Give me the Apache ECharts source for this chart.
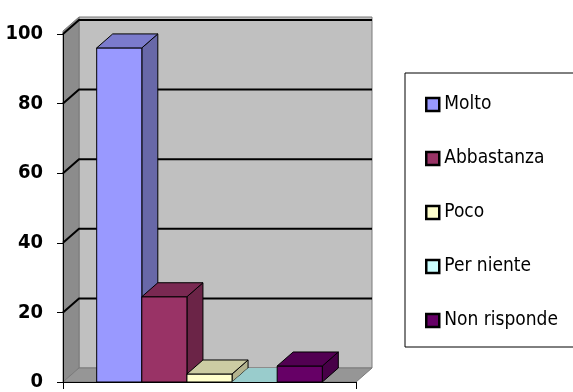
<!DOCTYPE html>
<html>
<head>
<meta charset="utf-8">
<script src="https://cdn.jsdelivr.net/npm/echarts@6/dist/echarts.min.js"></script>
<style>
  html, body { margin: 0; padding: 0; background: #fff; }
  #chart { width: 573px; height: 392px; }
</style>
</head>
<body>
<div id="chart"></div>
<script>
  // dati
  var names = ['Molto', 'Abbastanza', 'Poco', 'Per niente', 'Non risponde'];
  var values = [96, 24.5, 2.3, 0, 4.6];
  var yTicks = [0, 20, 40, 60, 80, 100];

  var frontColors = ['#9999ff', '#993366', '#ffffcc', '#ccffff', '#660066'];
  var topColors = ['#7b7bcc', '#7a2952', '#cccca3', '#99cccc', '#520052'];
  var sideColors = ['#6868a8', '#6b2447', '#b3b38f', '#8fb3b3', '#470047'];

  var DX = 16, DY = -14;   // profondita' 3D
  var GAP = 0.23;          // spazio ai lati del gruppo di barre

  var chart = echarts.init(document.getElementById('chart'));

  function renderWalls(params, api) {
    var p0 = api.coord([0, 0]);
    var band = api.size([1, 0])[0];
    var left = p0[0] - band / 2, right = p0[0] + band / 2;
    var yBase = p0[1];
    var yTop = api.coord([0, 100])[1];
    var children = [];
    // parete di fondo
    children.push({type: 'rect',
      shape: {x: left + DX, y: yTop + DY - 3, width: right - left, height: yBase - yTop + 3},
      style: {fill: '#c0c0c0', stroke: '#7a7a7a', lineWidth: 1}});
    // parete laterale
    children.push({type: 'polygon',
      shape: {points: [[left, yTop - 3], [left + DX, yTop + DY - 3], [left + DX, yBase + DY], [left, yBase]]},
      style: {fill: '#8c8c8c', stroke: '#7a7a7a', lineWidth: 1}});
    // pavimento
    children.push({type: 'polygon',
      shape: {points: [[left, yBase], [left + DX, yBase + DY], [right + DX, yBase + DY], [right, yBase]]},
      style: {fill: '#969696', stroke: '#7a7a7a', lineWidth: 1}});
    // griglia
    yTicks.forEach(function (t) {
      if (t === 0) return;
      var y = api.coord([0, t])[1];
      children.push({type: 'polyline',
        shape: {points: [[left, y], [left + DX, y + DY], [right + DX, y + DY]]},
        style: {stroke: '#000', lineWidth: 2, fill: null}});
    });
    return {type: 'group', children: children};
  }

  function renderBar(params, api) {
    var i = params.seriesIndex - 1;
    var base = api.coord([0, 0]);
    var top = api.coord([0, api.value(1)]);
    var band = api.size([1, 0])[0];
    var barW = band * (1 - GAP) / names.length;
    var x0 = base[0] - band * (1 - GAP) / 2 + i * barW;
    var x1 = x0 + barW;
    var y0 = base[1], y1 = top[1];
    var children = [];
    var solid = y0 - y1 > 0.5;
    if (solid) {
      children.push({type: 'polygon',
        shape: {points: [[x1, y1], [x1 + DX, y1 + DY], [x1 + DX, y0 + DY], [x1, y0]]},
        style: {fill: sideColors[i], stroke: '#000', lineWidth: 1}});
      children.push({type: 'rect',
        shape: {x: x0, y: y1, width: barW, height: y0 - y1},
        style: {fill: frontColors[i], stroke: '#000', lineWidth: 1}});
    }
    children.push({type: 'polygon',
      shape: {points: [[x0, y1], [x0 + DX, y1 + DY], [x1 + DX, y1 + DY], [x1, y1]]},
      style: {fill: topColors[i], stroke: solid ? '#000' : null, lineWidth: 1}});
    return {type: 'group', children: children};
  }

  var series = [{
    type: 'custom',
    name: 'pareti',
    silent: true,
    renderItem: renderWalls,
    data: [[0, 100]]
  }];
  names.forEach(function (n, i) {
    series.push({
      type: 'custom',
      name: n,
      renderItem: renderBar,
      itemStyle: {color: frontColors[i]},
      data: [[0, values[i]]]
    });
  });

  chart.setOption({
    animation: false,
    grid: {left: 63, right: 217, top: 34, bottom: 8},
    legend: {
      orient: 'vertical',
      left: 405,
      top: 73,
      padding: [22, 120, 17, 20],
      itemGap: 35,
      itemWidth: 13,
      itemHeight: 13,
      icon: 'rect',
      itemStyle: {borderColor: '#000', borderWidth: 2.5},
      borderColor: '#000',
      borderWidth: 1,
      textStyle: {fontFamily: 'DejaVu Sans Condensed', fontSize: 19, color: '#000'},
      data: names
    },
    xAxis: {
      type: 'category',
      data: [''],
      z: 10,
      axisLine: {lineStyle: {color: '#000', width: 1}},
      axisTick: {show: true, length: 7, lineStyle: {color: '#000'}},
      axisLabel: {show: false}
    },
    yAxis: {
      type: 'value',
      min: 0,
      max: 100,
      interval: 20,
      z: 10,
      axisLine: {show: true, lineStyle: {color: '#000', width: 1}},
      axisTick: {show: true, length: 6, lineStyle: {color: '#000'}},
      axisLabel: {margin: 20, color: '#000', fontWeight: 'bold', fontSize: 20,
        fontFamily: 'DejaVu Sans Condensed'},
      splitLine: {show: false}
    },
    series: series
  });
</script>
</body>
</html>
